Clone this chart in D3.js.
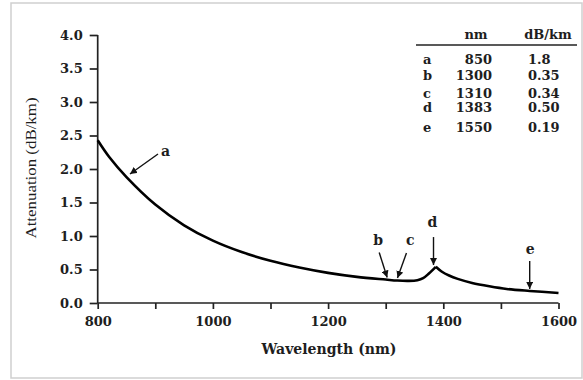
<!DOCTYPE html>
<html>
<head>
<meta charset="utf-8">
<script src="https://cdn.jsdelivr.net/npm/d3@7/dist/d3.min.js"></script>
<style>
  html, body { margin: 0; padding: 0; background: #fff; }
  svg { display: block; }
  text { fill: #1e1e1e; }
</style>
</head>
<body>
<svg id="chart" width="583" height="380"></svg>
<script>
// Fibre attenuation spectrum (dB/km) versus wavelength (nm)
const wavelengths = [800, 820, 850, 900, 950, 1000, 1050, 1100, 1150, 1200, 1250, 1300,
                     1320, 1340, 1355, 1365, 1375, 1387, 1397, 1410, 1425, 1450, 1480, 1510, 1550, 1600];
const attenuation = [2.43, 2.18, 1.88, 1.47, 1.16, 0.93, 0.76, 0.63, 0.53, 0.45, 0.39, 0.35,
                     0.335, 0.33, 0.34, 0.37, 0.44, 0.54, 0.47, 0.41, 0.36, 0.30, 0.25, 0.21, 0.18, 0.15];
const peakWavelength = 1387;

// Marked wavelengths in the table
const markLetters = ["a", "b", "c", "d", "e"];
const markNm = [850, 1300, 1310, 1383, 1550];
const markDb = ["1.8", "0.35", "0.34", "0.50", "0.19"];

const xTicks = [800, 900, 1000, 1100, 1200, 1300, 1400, 1500, 1600];
const yTicks = [0, 0.5, 1.0, 1.5, 2.0, 2.5, 3.0, 3.5, 4.0];

const svg = d3.select("#chart");
const W = 583, H = 380;
const serif = "'DejaVu Serif', serif";

// Frame
svg.append("rect")
  .attr("x", 11).attr("y", 3).attr("width", W - 12).attr("height", H - 5)
  .attr("fill", "none").attr("stroke", "#cfcfcf").attr("stroke-width", 1.5);

const x = d3.scaleLinear().domain([800, 1600]).range([97.7, 558.5]);
const y = d3.scaleLinear().domain([0, 4]).range([303, 35]);

// Axes
const xAxis = d3.axisBottom(x).tickValues(xTicks).tickSize(6).tickPadding(8)
  .tickFormat(d => d % 200 === 0 ? d : "");
const yAxis = d3.axisLeft(y).tickValues(yTicks).tickSize(8).tickPadding(7)
  .tickFormat(d3.format(".1f"));

const gx = svg.append("g").attr("transform", `translate(0,${y(0)})`).call(xAxis);
const gy = svg.append("g").attr("transform", `translate(${x(800)},0)`).call(yAxis);
[gx, gy].forEach(g => {
  g.select(".domain").attr("stroke", "#222").attr("stroke-width", 1.7);
  g.selectAll(".tick line").attr("stroke", "#222").attr("stroke-width", 1.7);
  g.selectAll(".tick text").attr("font-family", serif).attr("font-size", 13)
    .attr("font-weight", "bold").attr("fill", "#1e1e1e");
});
gx.select(".domain").attr("d", `M${x(800)},0H${x(1600)}`);
gy.select(".domain").attr("d", `M0,${y(4)}V${y(0)}`);

// Axis titles
svg.append("text")
  .attr("x", 329).attr("y", 354)
  .attr("text-anchor", "middle")
  .attr("font-family", serif).attr("font-size", 15).attr("font-weight", "bold")
  .attr("textLength", 135).attr("lengthAdjust", "spacingAndGlyphs")
  .text("Wavelength (nm)");

svg.append("text")
  .attr("transform", "translate(36,168) rotate(-90)")
  .attr("text-anchor", "middle")
  .attr("font-family", "'Liberation Serif', serif").attr("font-size", 15.5)
  .attr("textLength", 141).attr("lengthAdjust", "spacingAndGlyphs")
  .text("Attenuation (dB/km)");

// Attenuation curve: drawn as two smooth pieces meeting at the OH peak
const pts = wavelengths.map((w, i) => [w, attenuation[i]]);
const line = d3.line().x(d => x(d[0])).y(d => y(d[1])).curve(d3.curveCatmullRom.alpha(0.5));
const left = pts.filter(d => d[0] <= peakWavelength);
const right = pts.filter(d => d[0] >= peakWavelength);
[left, right].forEach(seg => {
  svg.append("path").datum(seg)
    .attr("d", line)
    .attr("fill", "none").attr("stroke", "#000").attr("stroke-width", 2.6)
    .attr("stroke-linejoin", "round");
});

// Value of the curve at a wavelength (linear between listed points)
function curveAt(nm) {
  const i = d3.bisectLeft(wavelengths, nm);
  if (i <= 0) return attenuation[0];
  const x0 = wavelengths[i - 1], x1 = wavelengths[i];
  const t = (nm - x0) / (x1 - x0);
  return attenuation[i - 1] + t * (attenuation[i] - attenuation[i - 1]);
}

// Arrow markers
svg.append("defs").append("marker")
  .attr("id", "head").attr("viewBox", "0 0 10 10")
  .attr("refX", 10).attr("refY", 5)
  .attr("markerWidth", 7).attr("markerHeight", 7)
  .attr("markerUnits", "userSpaceOnUse")
  .attr("orient", "auto")
  .append("path").attr("d", "M0,0L10,5L0,10z").attr("fill", "#111");

// Arrow geometry in pixels relative to the marked point on the curve
const tipShift = { a: [3.5, -3], b: [1.5, -2], c: [6, -2], d: [0, -4], e: [0, -2] };
const arrowTail = { a: [28, -20], b: [-8, -25], c: [9, -25], d: [0, -28], e: [0, -28] };
const letterPos = { a: [35.5, -22], b: [-9, -37], c: [12.7, -37], d: [-1, -42.5], e: [0.5, -38.5] };

markLetters.forEach((k, i) => {
  const tx = x(markNm[i]) + tipShift[k][0];
  const ty = y(curveAt(markNm[i])) + tipShift[k][1];
  svg.append("line")
    .attr("x1", tx + arrowTail[k][0]).attr("y1", ty + arrowTail[k][1])
    .attr("x2", tx).attr("y2", ty)
    .attr("stroke", "#111").attr("stroke-width", 1.4)
    .attr("marker-end", "url(#head)");
  svg.append("text")
    .attr("x", tx + letterPos[k][0]).attr("y", ty + letterPos[k][1])
    .attr("text-anchor", "middle").attr("dominant-baseline", "middle")
    .attr("font-family", serif).attr("font-size", 14).attr("font-weight", "bold")
    .text(k);
});

// Table of marked wavelengths
const tbl = svg.append("g").attr("font-family", serif).attr("font-size", 13)
  .attr("font-weight", "bold");
tbl.append("text").attr("x", 476).attr("y", 39).attr("text-anchor", "middle").text("nm");
tbl.append("text").attr("x", 548).attr("y", 39).attr("text-anchor", "middle").text("dB/km");
tbl.append("line").attr("x1", 416).attr("x2", 577).attr("y1", 45).attr("y2", 45)
  .attr("stroke", "#222").attr("stroke-width", 1.5);
const rowY = [64, 80, 98, 112, 132];
markLetters.forEach((k, i) => {
  tbl.append("text").attr("x", 423).attr("y", rowY[i]).text(k);
  tbl.append("text").attr("x", 492).attr("y", rowY[i]).attr("text-anchor", "end").text(markNm[i]);
  tbl.append("text").attr("x", 528).attr("y", rowY[i]).text(markDb[i]);
});
</script>
</body>
</html>
